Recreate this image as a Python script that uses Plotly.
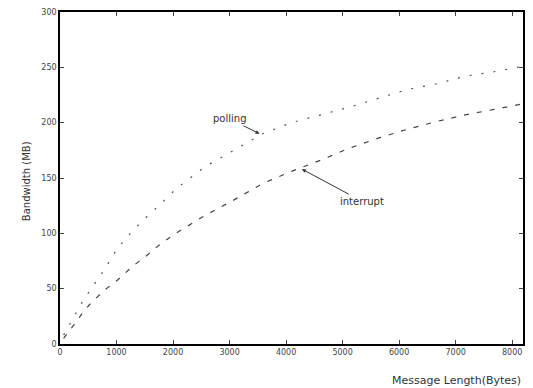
import plotly.graph_objects as go

msg_len = [64, 128, 256, 384, 512, 768, 1024, 1280, 1536, 1792, 2048, 2560, 3072,
           3584, 4096, 4608, 5120, 5632, 6144, 6656, 7168, 7680, 8192]
polling = [8, 14, 26, 37, 47, 66, 87, 102, 115, 127, 140, 160, 175,
           190, 200, 207, 214, 222, 230, 235, 242, 246, 251]
interrupt = [5, 9, 18, 27, 35, 48, 58, 70, 80, 91, 100, 116, 130,
             145, 156, 166, 177, 186, 194, 201, 207, 212, 217]
x_ticks = [0, 1000, 2000, 3000, 4000, 5000, 6000, 7000, 8000]
y_ticks = [0, 50, 100, 150, 200, 250, 300]

fig = go.Figure()
fig.add_trace(go.Scatter(x=msg_len, y=polling, mode="lines", name="polling",
                         line=dict(color="#555", width=1.2, dash="2px,10px")))
fig.add_trace(go.Scatter(x=msg_len, y=interrupt, mode="lines", name="interrupt",
                         line=dict(color="#444", width=1.2, dash="5px,8px")))

tickfont = dict(family="DejaVu Sans", size=8, color="#444")
fig.update_xaxes(range=[0, 8192], tickvals=x_ticks, ticks="inside", ticklen=4,
                 showline=True, linecolor="black", linewidth=1.5, mirror="ticks",
                 showgrid=False, zeroline=False, tickfont=tickfont)
fig.update_yaxes(range=[0, 300], tickvals=y_ticks, ticks="inside", ticklen=4,
                 showline=True, linecolor="black", linewidth=1.5, mirror="ticks",
                 showgrid=False, zeroline=False, tickfont=tickfont)

fig.add_annotation(x=3530, y=190, text="polling", showarrow=True, arrowhead=2,
                   arrowsize=0.8, arrowwidth=1, arrowcolor="#333", ax=-30, ay=-15,
                   font=dict(family="DejaVu Sans", size=10, color="#333"))
fig.add_annotation(x=4280, y=158, text="interrupt", showarrow=True, arrowhead=2,
                   arrowsize=0.8, arrowwidth=1, arrowcolor="#333", ax=60, ay=32,
                   font=dict(family="DejaVu Sans", size=10, color="#333"))
fig.add_annotation(xref="paper", yref="paper", x=1.0, y=-0.085, xanchor="right",
                   yanchor="top", text="Message Length(Bytes)", showarrow=False,
                   font=dict(family="DejaVu Sans", size=11, color="#333"))
fig.add_annotation(xref="paper", yref="paper", x=-0.09, y=0.49, textangle=-90,
                   text="Bandwidth (MB)", showarrow=False,
                   font=dict(family="DejaVu Sans", size=10, color="#333"))

fig.update_layout(width=533, height=388, margin=dict(l=60, r=8, t=9, b=44),
                  plot_bgcolor="white", paper_bgcolor="white", showlegend=False)
fig.write_html("out.html", config={"displayModeBar": False},
               post_script="document.body.style.margin='0';document.body.style.overflow='hidden';")
